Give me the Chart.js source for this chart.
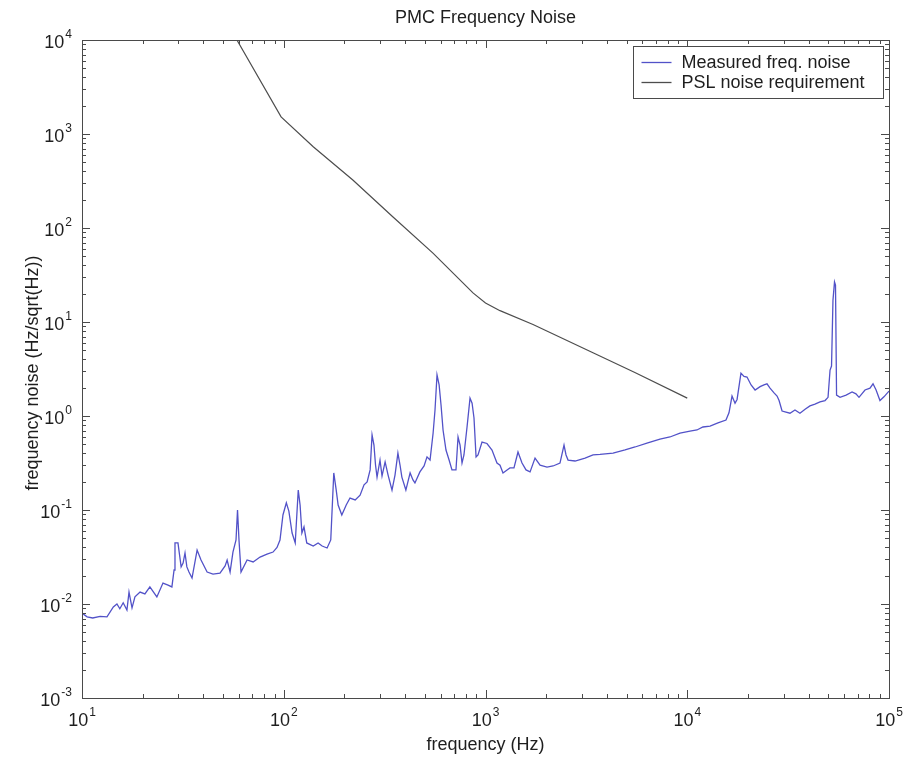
<!DOCTYPE html>
<html>
<head>
<meta charset="utf-8">
<title>PMC Frequency Noise</title>
<script src="https://cdn.jsdelivr.net/npm/chart.js@4.4.1/dist/chart.umd.min.js"></script>
<style>
  html, body { margin: 0; padding: 0; background: #fff; }
  #wrap { width: 915px; height: 760px; position: relative; }
</style>
</head>
<body>
<div id="wrap"><canvas id="noiseChart"></canvas></div>
<script>
// ====================== DATA ======================
// measured PMC frequency noise spectrum (Hz, Hz/sqrt(Hz))
const measFreq = [
  10, 10.6, 11.3, 12.3, 13.3, 14.3, 14.9, 15.4, 16.0, 16.7,
  17.1, 17.7, 18.3, 19.4, 20.5, 21.7, 23.5, 25.2, 26.7, 27.9,
  28.6, 28.9, 29.9, 31.0, 31.7, 32.4, 33.1, 33.9, 35.1, 37.2,
  38.9, 41.7, 44.6, 48.3, 51.2, 52.4, 54.2, 56.0, 58.0, 59.0,
  60.0, 61.4, 65.8, 70.5, 76.3, 82.6, 88.5, 92.6, 95.8, 99.1,
  103, 106, 110, 114, 118, 120.5, 123, 126, 130, 140,
  148, 155, 164, 171, 177, 182, 186, 194, 204, 213,
  226, 239, 250, 259, 268, 274, 280, 285, 290, 300,
  307, 318, 329, 344, 356, 368, 377, 385, 403, 423,
  437, 447, 473, 496, 513, 531, 550, 562, 575, 589,
  602, 616, 637, 660, 682, 714, 731, 748, 765, 782,
  810, 838, 858, 877, 898, 918, 961, 1017, 1077, 1140,
  1180, 1221, 1279, 1322, 1384, 1449, 1517, 1588, 1663, 1760,
  1864, 2018, 2162, 2340, 2450, 2507, 2566, 2780, 3115, 3412,
  3696, 4289, 4916, 5510, 6313, 7325, 8207, 9205, 10320, 11170,
  11960, 12970, 14200, 15560, 16100, 16670, 17250, 17660, 18460, 19110,
  19780, 20720, 21690, 22970, 24000, 24850, 25720, 26930, 27870, 28520,
  29510, 30860, 32300, 34200, 36200, 38370, 40560, 42960, 45500, 48180,
  49870, 51030, 51900, 52760, 53690, 54300, 54960, 57190, 61270, 65600,
  68590, 71000, 76030, 80500, 83330, 86300, 90200, 94400, 100000
];
const measNoise = [
  0.0080, 0.0073, 0.0071, 0.0074, 0.0073, 0.0093, 0.0100, 0.0089, 0.0103, 0.0086,
  0.0134, 0.0091, 0.0119, 0.0134, 0.0128, 0.0152, 0.0119, 0.0167, 0.0159, 0.0152,
  0.0230, 0.0446, 0.0446, 0.0248, 0.0273, 0.0349, 0.0248, 0.0219, 0.0189, 0.0375,
  0.0294, 0.0219, 0.0208, 0.0213, 0.0254, 0.0294, 0.0219, 0.0357, 0.048, 0.100,
  0.048, 0.0219, 0.0294, 0.028, 0.0316, 0.034, 0.0357, 0.040, 0.048, 0.0885,
  0.119, 0.0975, 0.0569, 0.0446, 0.163, 0.113, 0.0569, 0.066, 0.0446, 0.0414,
  0.0446, 0.0414, 0.0394, 0.048, 0.248, 0.163, 0.113, 0.0885, 0.113, 0.134,
  0.128, 0.144, 0.185, 0.199, 0.267, 0.628, 0.491, 0.301, 0.224, 0.34,
  0.23, 0.325, 0.235, 0.163, 0.235, 0.403, 0.301, 0.224, 0.163, 0.248,
  0.209, 0.194, 0.254, 0.294, 0.367, 0.34, 0.659, 1.16, 2.73, 2.14,
  1.31, 0.71, 0.435, 0.34, 0.267, 0.267, 0.598, 0.49, 0.316, 0.385,
  0.764, 1.55, 1.37, 0.953, 0.367, 0.385, 0.528, 0.51, 0.435, 0.316,
  0.30, 0.248, 0.267, 0.28, 0.28, 0.414, 0.316, 0.267, 0.254, 0.357,
  0.30, 0.286, 0.294, 0.316, 0.491, 0.385, 0.34, 0.332, 0.357, 0.385,
  0.39, 0.403, 0.435, 0.468, 0.516, 0.569, 0.598, 0.659, 0.692, 0.71,
  0.764, 0.78, 0.843, 0.906, 1.08, 1.63, 1.37, 1.5, 2.86, 2.64,
  2.6, 2.14, 1.89, 2.05, 2.14, 2.2, 1.98, 1.76, 1.63, 1.46,
  1.13, 1.1, 1.07, 1.16, 1.07, 1.18, 1.28, 1.34, 1.41, 1.46,
  1.58, 3.08, 3.4, 17.1, 26.7, 24.7, 1.67, 1.58, 1.67, 1.80,
  1.72, 1.58, 1.89, 1.98, 2.2, 1.89, 1.46, 1.6, 1.84
];

// PSL noise requirement curve
const pslFreq  = [58.6, 97, 140, 220, 348, 549, 867, 1000, 1180, 1720, 3410, 5500, 10000];
const pslNoise = [10000, 1520, 733, 324, 131, 54, 20.4, 15.9, 13.2, 9.4, 4.7, 2.9, 1.55];

// decade tick labels, written as 10^exp
const xTickExps = [1, 2, 3, 4, 5];
const yTickExps = [-3, -2, -1, 0, 1, 2, 3, 4];

const seriesNames = ["Measured freq. noise", "PSL noise requirement"];
const chartTitle = "PMC Frequency Noise";
const xAxisTitle = "frequency (Hz)";
const yAxisTitle = "frequency noise (Hz/sqrt(Hz))";

// ====================== STYLE ======================
const FONT = '"Liberation Sans", Arial, Helvetica, sans-serif';
const TEXT_COLOR = "#1e1e1e";
const FRAME_COLOR = "#4a4a4a";
const BLUE = "#5252c8";
const GREY = "#4d4d4d";

function toPoints(xs, ys) {
  return xs.map((x, i) => ({ x: x, y: ys[i] }));
}

// "10" followed by a raised exponent
function measurePower(ctx, exp) {
  ctx.font = "18px " + FONT;
  const baseW = ctx.measureText("10").width;
  ctx.font = "12px " + FONT;
  const expW = ctx.measureText(String(exp)).width;
  return { baseW, expW, total: baseW + 1 + expW };
}

function drawPower(ctx, exp, left, baseline) {
  const m = measurePower(ctx, exp);
  ctx.textAlign = "left";
  ctx.textBaseline = "alphabetic";
  ctx.font = "18px " + FONT;
  ctx.fillText("10", left, baseline);
  ctx.font = "12px " + FONT;
  ctx.fillText(String(exp), left + m.baseW + 1, baseline - 10);
}

// matlab style frame: box, inward log ticks on all sides, labels
const framePlugin = {
  id: "matlabFrame",
  afterDatasetsDraw(chart) {
    const ctx = chart.ctx;
    const a = chart.chartArea;
    const xs = chart.scales.x;
    const ys = chart.scales.y;
    ctx.save();

    // box
    ctx.strokeStyle = FRAME_COLOR;
    ctx.lineWidth = 1;
    ctx.strokeRect(Math.round(a.left) + 0.5, Math.round(a.top) + 0.5,
      Math.round(a.right - a.left), Math.round(a.bottom - a.top));

    // ticks
    ctx.beginPath();
    const xLo = xTickExps[0], xHi = xTickExps[xTickExps.length - 1];
    for (let e = xLo; e <= xHi; e++) {
      for (let m = 1; m <= 9; m++) {
        if (e === xHi && m > 1) break;
        const p = Math.round(xs.getPixelForValue(m * Math.pow(10, e))) + 0.5;
        const len = m === 1 ? 8 : 4;
        ctx.moveTo(p, a.bottom); ctx.lineTo(p, a.bottom - len);
        ctx.moveTo(p, a.top); ctx.lineTo(p, a.top + len);
      }
    }
    const yLo = yTickExps[0], yHi = yTickExps[yTickExps.length - 1];
    for (let e = yLo; e <= yHi; e++) {
      for (let m = 1; m <= 9; m++) {
        if (e === yHi && m > 1) break;
        const p = Math.round(ys.getPixelForValue(m * Math.pow(10, e))) + 0.5;
        const len = m === 1 ? 8 : 4;
        ctx.moveTo(a.left, p); ctx.lineTo(a.left + len, p);
        ctx.moveTo(a.right, p); ctx.lineTo(a.right - len, p);
      }
    }
    ctx.stroke();

    // tick labels
    ctx.fillStyle = TEXT_COLOR;
    xTickExps.forEach(e => {
      const px = xs.getPixelForValue(Math.pow(10, e));
      const m = measurePower(ctx, e);
      drawPower(ctx, e, px - m.total / 2, a.bottom + 28);
    });
    yTickExps.forEach(e => {
      const py = ys.getPixelForValue(Math.pow(10, e));
      const m = measurePower(ctx, e);
      drawPower(ctx, e, a.left - 10 - m.total, py + 8);
    });

    // titles
    ctx.font = "18px " + FONT;
    ctx.textAlign = "center";
    ctx.textBaseline = "middle";
    const cx = (a.left + a.right) / 2;
    ctx.fillText(chartTitle, cx, 18);
    ctx.fillText(xAxisTitle, cx, a.bottom + 47);
    ctx.save();
    ctx.translate(33, (a.top + a.bottom) / 2 + 4);
    ctx.rotate(-Math.PI / 2);
    ctx.fillText(yAxisTitle, 0, 0);
    ctx.restore();

    // legend
    const boxL = 633.5, boxT = a.top + 6.5, boxR = a.right - 5.5, boxB = a.top + 58.5;
    ctx.fillStyle = "#fff";
    ctx.fillRect(boxL, boxT, boxR - boxL, boxB - boxT);
    ctx.strokeStyle = FRAME_COLOR;
    ctx.strokeRect(boxL, boxT, boxR - boxL, boxB - boxT);
    ctx.textAlign = "left";
    chart.data.datasets.forEach((ds, i) => {
      const ly = boxT + 16 + i * 20;
      ctx.strokeStyle = ds.borderColor;
      ctx.lineWidth = 1.3;
      ctx.beginPath();
      ctx.moveTo(boxL + 8, ly);
      ctx.lineTo(boxL + 38, ly);
      ctx.stroke();
      ctx.fillStyle = TEXT_COLOR;
      ctx.font = "18px " + FONT;
      ctx.fillText(ds.label, boxL + 48, ly + 1);
    });

    ctx.restore();
  }
};

// ====================== CHART ======================
const ctx = document.getElementById("noiseChart").getContext("2d");
const chart = new Chart(ctx, {
  type: "line",
  data: {
    datasets: [
      {
        label: seriesNames[0],
        data: toPoints(measFreq, measNoise),
        borderColor: BLUE,
        borderWidth: 1.3,
        pointRadius: 0,
        tension: 0,
        fill: false
      },
      {
        label: seriesNames[1],
        data: toPoints(pslFreq, pslNoise),
        borderColor: GREY,
        borderWidth: 1.2,
        pointRadius: 0,
        tension: 0,
        fill: false
      }
    ]
  },
  options: {
    responsive: true,
    maintainAspectRatio: false,
    animation: false,
    layout: { padding: { left: 82, right: 26, top: 40, bottom: 62 } },
    scales: {
      x: { type: "logarithmic", min: 10, max: 100000, display: false },
      y: { type: "logarithmic", min: 0.001, max: 10000, display: false }
    },
    plugins: {
      legend: { display: false },
      title: { display: false },
      tooltip: { enabled: false }
    }
  },
  plugins: [framePlugin]
});
</script>
</body>
</html>
